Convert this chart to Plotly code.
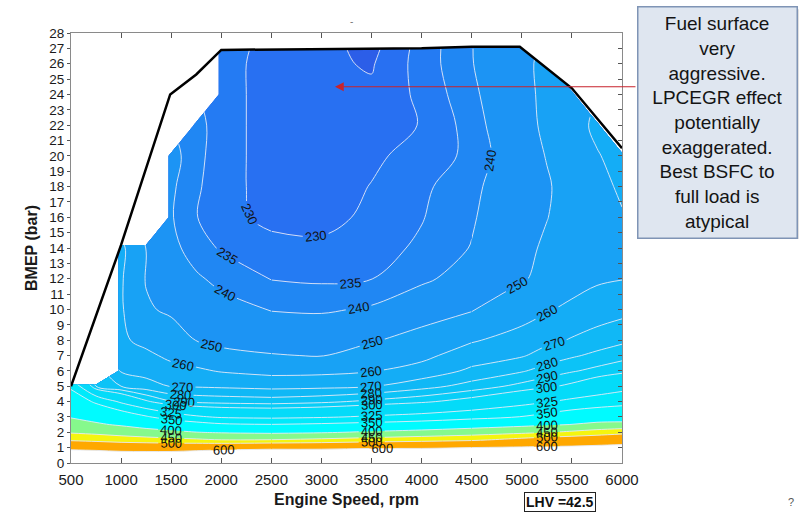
import numpy as np
import plotly.graph_objects as go

FONT = "Liberation Sans, Arial, sans-serif"
N = None

# ---- data -------------------------------------------------------------
speed = [500, 750, 1000, 1250, 1500, 1750, 2000, 2500, 3000, 3500,
         4000, 4500, 5000, 5250, 5500, 5750, 6000]
bmep = [0, 0.5, 1, 1.5, 2, 2.5, 3, 4, 5, 6, 7, 8, 10, 12, 14, 16,
        18, 20, 22, 24, 26, 27]

# BSFC (g/kWh), one list per engine speed, bottom (0 bar) to top (27 bar)
bsfc_500 = [800, 663, 575, 492, 445, 420, 397, 372, 344, N, N, N, N, N, N, N, N, N, N, N, N, N]
bsfc_750 = [800, 659, 567, 484, 438, 406, 385, 345, 290, N, N, N, N, N, N, N, N, N, N, N, N, N]
bsfc_1000 = [800, 648, 556, 475, 429, 395, 370, 321, 280, 269, 265, 261.5, 261, 261, 262, N, N, N, N, N, N, N]
bsfc_1250 = [800, 648, 552, 470, 418, 382, 353, 302, 274, 266.4, 261.9, 257.5, 251, 249.5, 249.8, N, N, N, N, N, N, N]
bsfc_1500 = [800, 650, 550, 464, 410, 371, 337.5, 290.4, 269.4, 263, 258, 254.2, 248.6, 245.5, 242, 240.5, 241, 242, N, N, N, N]
bsfc_1750 = [800, 667, 556, 458, 401, 361.5, 328, 287.5, 268.9, 261.5, 255.3, 249.8, 245.3, 241, 237, 235.2, 236, 237, 237.5, N, N, N]
bsfc_2000 = [850, 687, 562, 451, 396, 354, 322.5, 286.3, 268.2, 259.3, 252.1, 248.1, 242.7, 238.2, 234.5, 232, 231.5, 231.5, 231.5, 231.5, 231.5, 232]
bsfc_2500 = [850, 714, 571, 452, 391.7, 351, 320, 285, 266.7, 257.1, 250.5, 246.5, 239.6, 234.8, 231.8, 228.5, 228.5, 228.5, 228.5, 228.5, 228.5, 228.5]
bsfc_3000 = [850, 700, 575, 460, 395.8, 354.2, 322.7, 287.5, 267.4, 257.5, 249.6, 246, 239.1, 234.2, 231, 228.5, 227.5, 227, 226.5, 226, 226, 226.5]
bsfc_3500 = [850, 712, 587.5, 470, 405.6, 359, 327.8, 292.5, 269.5, 259.5, 254.2, 249.2, 240.8, 234.9, 233, 231, 230.2, 229, 228, 226, 224.5, 223.5]
bsfc_4000 = [850, 700, 589, 480, 415, 365, 332.5, 297.8, 276, 263.6, 257.5, 253.3, 245.6, 238.6, 235.9, 234.7, 233.9, 232, 230.2, 231.2, 232.1, 232]
bsfc_4500 = [850, 711, 601, 491.7, 425, 377.3, 340, 305.6, 284, 272, 265, 259, 249.3, 243.4, 240.3, 239.3, 238.5, 236.3, 237.2, 238.6, 239.7, 239.8]
bsfc_5000 = [850, 700, 609, 518, 438.9, 388.5, 351, 316.7, 293.3, 278.9, 269, 264, 255.3, 249.3, 248, 246.3, 245.3, 245.8, 247, 247.3, 247.7, 247.7]
bsfc_5250 = [850, 697, 613, 530, 447.8, 394.9, 358.7, 323.6, 297.9, 284.4, 274.1, 267.6, 259, 252.1, 251.2, 249.8, 249.1, 250.4, 251.7, 252.2, 252.5, N]
bsfc_5500 = [850, 692, 615.4, 538.5, 458.3, 401, 366.7, 330.3, 302.8, 288.9, 278.5, 270.8, 262.4, 255.4, 253.4, 253.1, 253.6, 254.9, 257, 258.1, N, N]
bsfc_5750 = [850, 697, 622, 548, 470, 412, 372.9, 335.5, 310.5, 292.9, 282.5, 274.2, 264.6, 258.7, 255.6, 256.5, 258, 259.5, 261.5, N, N, N]
bsfc_6000 = [850, 700, 628.6, 557, 483.3, 412.5, 377.8, 339.6, 317.5, 296.7, 286.4, 277.7, 266.6, 259.7, 257.8, 259.5, 261, 262.5, N, N, N, N]

# full-load (max BMEP) curve
fl_speed = [500, 1000, 1490, 1750, 2000, 3000, 4000, 4500, 4980, 5500, 6000]
fl_bmep = [5.0, 14.2, 24.0, 25.3, 26.9, 26.95, 27.0, 27.1, 27.1, 24.4, 20.5]

# contour levels and band colours (band below first level ... band above last)
levels = [225, 230, 235, 240, 250, 260, 270, 280, 290, 300, 325, 350, 400, 450, 500, 600]
band_colors = ["#2c5ee8", "#2870f2", "#247bf3", "#2087f3", "#1c94f4", "#18a2f5",
               "#14adf6", "#10b8f6", "#0cc3f7", "#08cef8", "#04dbf9", "#00eafb",
               "#00fbff", "#86f98c", "#f5f50f", "#ffa800", "#ffffff"]

x_ticks = list(range(500, 6001, 500))

# ---- figure -----------------------------------------------------------
columns = [bsfc_500, bsfc_750, bsfc_1000, bsfc_1250, bsfc_1500, bsfc_1750, bsfc_2000,
           bsfc_2500, bsfc_3000, bsfc_3500, bsfc_4000, bsfc_4500, bsfc_5000,
           bsfc_5250, bsfc_5500, bsfc_5750, bsfc_6000]
Z = np.array([[np.nan if v is None else v for v in c] for c in columns], dtype=float).T

common = dict(x=speed, y=bmep, z=Z, connectgaps=False, showscale=False,
              hoverinfo="skip")

fig = go.Figure()
# base colour for the whole data area
fig.add_trace(go.Contour(**common, autocontour=False,
                         colorscale=[[0, band_colors[0]], [1, band_colors[0]]],
                         contours=dict(coloring="fill", showlines=False,
                                       start=5000, end=5001, size=1),
                         line=dict(width=0)))
# stacked bands: each shades where BSFC > level
for lev, col in zip(levels, band_colors[1:]):
    fig.add_trace(go.Contour(**common,
                             contours=dict(type="constraint", operation="<",
                                           value=lev, showlines=False),
                             fillcolor=col, line=dict(width=0)))

# iso-lines with labels, drawn in three speed segments so each gets its own labels
segments = [(0, 8), (7, 12), (11, 17)]
for i0, i1 in segments:
    for lev in levels:
        fig.add_trace(go.Contour(x=speed[i0:i1], y=bmep, z=Z[:, i0:i1],
                                 connectgaps=False, showscale=False, hoverinfo="skip",
                                 autocontour=False,
                                 contours=dict(start=lev, end=lev + 0.5, size=1,
                                               coloring="none", showlabels=True,
                                               labelfont=dict(size=13, color="#111",
                                                              family=FONT)),
                                 line=dict(color="rgba(228,234,246,0.9)", width=1)))

# white outside the full-load curve
fig.add_trace(go.Scatter(x=[speed[0]] + fl_speed + [speed[-1]],
                         y=[28] + fl_bmep + [28],
                         fill="toself", fillcolor="white", mode="lines",
                         line=dict(width=0, color="white"), hoverinfo="skip",
                         showlegend=False))
fig.add_trace(go.Scatter(x=fl_speed, y=fl_bmep, mode="lines",
                         line=dict(color="black", width=2.5), hoverinfo="skip",
                         showlegend=False))
# helper trace for the right-hand tick axis
fig.add_trace(go.Scatter(x=[speed[0]], y=[0], yaxis="y2", mode="markers",
                         marker=dict(opacity=0), hoverinfo="skip", showlegend=False))

L, R, T, B = 71, 184, 33, 50
PW, PH = 806 - L - R, 517 - T - B


def px(xp):
    return (xp - L) / PW


def py(yp):
    return (517 - B - yp) / PH


fig.update_layout(
    width=806, height=517,
    margin=dict(l=L, r=R, t=T, b=B, pad=0),
    paper_bgcolor="white", plot_bgcolor="white",
    showlegend=False,
    font=dict(family=FONT, color="#1a1a1a"),
    xaxis=dict(range=[500, 6000], tickmode="array", tickvals=x_ticks,
               ticks="inside", ticklen=5, tickcolor="#555", showline=True,
               linecolor="#8a8a8a", linewidth=1, mirror="ticks", showgrid=False,
               zeroline=False, ticklabelstandoff=3,
               tickfont=dict(size=15, family=FONT, color="#1a1a1a"),
               title=dict(text="<b>Engine Speed, rpm</b>", standoff=6,
                          font=dict(size=16, family=FONT, color="#1a1a1a"))),
    yaxis=dict(range=[0, 28], tick0=0, dtick=1, ticks="outside", ticklen=3,
               tickcolor="#555", showline=True, linecolor="#8a8a8a", linewidth=1,
               mirror=True, showgrid=False, zeroline=False,
               tickfont=dict(size=13.5, family=FONT, color="#1a1a1a"),
               title=dict(text="<b>BMEP (bar)</b>", standoff=7,
                          font=dict(size=16, family=FONT, color="#1a1a1a"))),
    yaxis2=dict(range=[0, 28], tick0=0, dtick=1, overlaying="y", side="right",
                ticks="inside", ticklen=4, tickcolor="#555", showticklabels=False,
                showline=False, showgrid=False, zeroline=False),
    shapes=[dict(type="rect", xref="paper", yref="paper",
                 x0=px(639), x1=px(799), y0=py(241), y1=py(9),
                 fillcolor="rgba(0,0,0,0.12)", line=dict(width=0), layer="above")],
    annotations=[
        dict(x=3135, y=24.5, xref="x", yref="y", ax=302, ay=0, text="",
             showarrow=True, arrowhead=2, arrowsize=1.6, arrowwidth=1.1,
             arrowcolor="#c8232c"),
        dict(x=px(717), y=py(123), xref="paper", yref="paper",
             xanchor="center", yanchor="middle",
             text="Fuel surface<br>very<br>aggressive.<br>LPCEGR effect<br>potentially<br>"
                  "exaggerated.<br>Best BSFC to<br>full load is<br>atypical",
             showarrow=False, align="center", width=150, height=222,
             font=dict(size=19, family=FONT, color="#141414"),
             bgcolor="#dfe6f0", bordercolor="#7f94b5", borderwidth=1.5, borderpad=4),
        dict(x=px(560), y=py(506), xref="paper", yref="paper", text="<b>LHV =42.5</b>",
             xanchor="center", yanchor="middle",
             showarrow=False, font=dict(size=14, family=FONT, color="#111"),
             bgcolor="white", bordercolor="#222", borderwidth=1, borderpad=1),
        dict(x=px(791), y=py(506), xref="paper", yref="paper", text="?",
             xanchor="center", yanchor="middle",
             showarrow=False, font=dict(size=11, family=FONT, color="#555")),
        dict(x=px(351), y=py(21), xref="paper", yref="paper", text="-",
             xanchor="center", yanchor="middle",
             showarrow=False, font=dict(size=10, family=FONT, color="#777")),
    ],
)

fig.write_html("out.html")
